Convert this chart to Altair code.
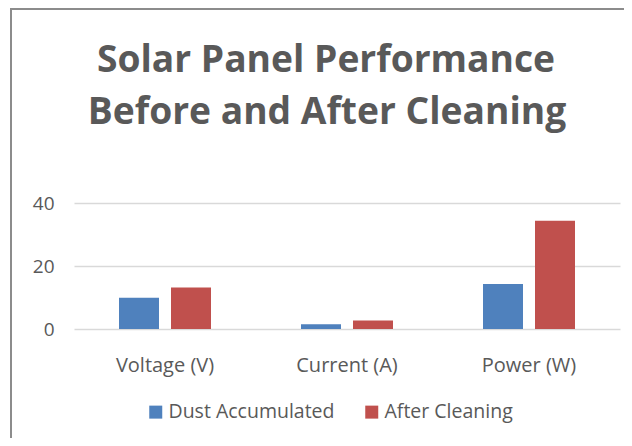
import altair as alt
import pandas as pd

categories = ["Voltage (V)", "Current (A)", "Power (W)"]
series = ["Dust Accumulated", "After Cleaning"]
dust = [9.9, 1.5, 14.3]
after = [13.2, 2.7, 34.4]
y_ticks = [0, 20, 40]
colors = ["#4F81BD", "#C0504D"]
title_lines = ["Solar Panel Performance", "Before and After Cleaning"]

rows = []
for i, c in enumerate(categories):
    rows.append({"category": c, "series": series[0], "value": dust[i]})
    rows.append({"category": c, "series": series[1], "value": after[i]})
df = pd.DataFrame(rows)

FONT = "Open Sans"
GRAY = "#595959"

bars = alt.Chart(df).mark_bar().encode(
    x=alt.X(
        "category:N",
        sort=categories,
        scale=alt.Scale(paddingInner=0, paddingOuter=0),
        axis=alt.Axis(title=None, labelAngle=0, ticks=False, domain=False,
                      labelPadding=26, labelFontSize=20, labelColor=GRAY,
                      labelFont=FONT, grid=False),
    ),
    xOffset=alt.XOffset(
        "series:N", sort=series,
        scale=alt.Scale(paddingInner=0.2308, paddingOuter=0.8654),
    ),
    y=alt.Y(
        "value:Q",
        scale=alt.Scale(domain=[0, 40]),
        axis=alt.Axis(values=y_ticks, title=None, ticks=False, domain=False,
                      labelPadding=20, labelFontSize=19, labelColor=GRAY,
                      labelFont=FONT, gridColor="#D9D9D9", gridWidth=1.5),
    ),
    color=alt.Color(
        "series:N", sort=series,
        scale=alt.Scale(domain=series, range=colors),
        legend=alt.Legend(orient="none", legendX=72, legendY=199,
                          direction="horizontal", title=None,
                          symbolType="square", symbolSize=169,
                          symbolStrokeWidth=0, labelFontSize=19.5,
                          labelFont=FONT, labelColor=GRAY, labelOffset=3,
                          labelLimit=400, columnPadding=27),
    ),
)

frame_data = alt.Data(values=[{"k": 1}])
left_line = alt.Chart(frame_data).mark_rule(color="#8C8C8C", strokeWidth=2).encode(
    x=alt.value(-63), y=alt.value(-195), y2=alt.value(235)
)
top_line = alt.Chart(frame_data).mark_rule(color="#8C8C8C", strokeWidth=2).encode(
    x=alt.value(-64), x2=alt.value(560), y=alt.value(-194)
)

title_style = dict(font=FONT, fontSize=37.2, fontWeight="bold", color=GRAY,
                   align="center", baseline="alphabetic")
title1 = alt.Chart(frame_data).mark_text(text=title_lines[0], **title_style).encode(
    x=alt.value(252), y=alt.value(-131)
)
title2 = alt.Chart(frame_data).mark_text(text=title_lines[1], **title_style).encode(
    x=alt.value(253), y=alt.value(-79)
)

chart = alt.layer(bars, left_line, top_line, title1, title2).properties(
    width=546,
    height=126,
    autosize=alt.AutoSizeParams(type="none"),
    padding={"left": 66, "top": 195, "right": 4, "bottom": 109},
    background="white",
).configure_view(stroke=None)

chart.save("out.html", embed_options={"renderer": "svg", "actions": False})
